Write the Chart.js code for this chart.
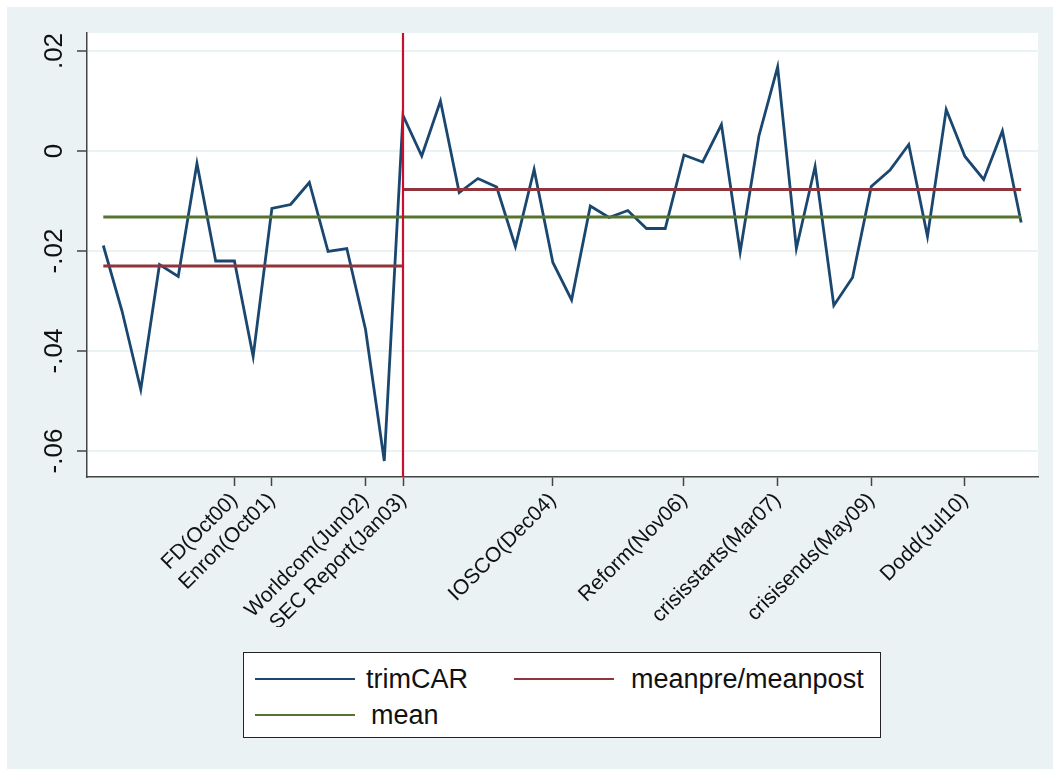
<!DOCTYPE html>
<html>
<head>
<meta charset="utf-8">
<script src="https://cdn.jsdelivr.net/npm/chart.js@4.4.1/dist/chart.umd.min.js"></script>
<style>
  body { margin: 0; background: #fff; font-family: "Liberation Sans", Arial, sans-serif; }
  #panel { position: absolute; left: 7px; top: 7px; width: 1046px; height: 762px; background: #EAF2F3; }
  #wrap { position: absolute; left: 0; top: 0; width: 1053px; height: 769px; }
  #legend { position: absolute; left: 243px; top: 652px; width: 636px; height: 84px; background: #fff; border: 1.5px solid #222;
            font-size: 27px; color: #111; }
  #legend .item { position: absolute; display: flex; align-items: center; height: 30px; }
  #legend .swatch { width: 100px; height: 2px; }
</style>
</head>
<body>
<div id="panel"></div>
<div id="wrap"><canvas id="c" width="1053" height="769"></canvas></div>
<div id="legend"></div>
<script>
// observation numbers (monthly event windows)
const obs = [1,2,3,4,5,6,7,8,9,10,11,12,13,14,15,16,17,18,19,20,21,22,23,24,25,
             26,27,28,29,30,31,32,33,34,35,36,37,38,39,40,41,42,43,44,45,46,47,48,49,50];
const trimCAR = [-0.0189, -0.0320, -0.0477, -0.0227, -0.0251, -0.0025, -0.0220, -0.0220, -0.0411, -0.0115,
                 -0.0107, -0.0063, -0.0201, -0.0195, -0.0357, -0.0620, 0.0071, -0.0010, 0.0100, -0.0083,
                 -0.0055, -0.0072, -0.0191, -0.0037, -0.0223, -0.0298, -0.0110, -0.0133, -0.0119, -0.0155,
                 -0.0155, -0.0008, -0.0022, 0.0053, -0.0202, 0.0030, 0.0168, -0.0195, -0.0031, -0.0309,
                 -0.0253, -0.0071, -0.0038, 0.0013, -0.0171, 0.0083, -0.0011, -0.0057, 0.0040, -0.0143];
const breakObs = 17;
const meanpre = -0.0230;
const meanpost = -0.0077;
const meanAll = -0.0132;

const eventTicks = [8, 10, 15, 17, 25, 32, 37, 42, 47];
const eventLabels = ['FD(Oct00)', 'Enron(Oct01)', 'Worldcom(Jun02)', 'SEC Report(Jan03)', 'IOSCO(Dec04)',
                     'Reform(Nov06)', 'crisisstarts(Mar07)', 'crisisends(May09)', 'Dodd(Jul10)'];
const yTicks = [-0.06, -0.04, -0.02, 0, 0.02];
const yLabels = ['-.06', '-.04', '-.02', '0', '.02'];

const xMin = 0.13, xMax = 50.9, yMin = -0.0652, yMax = 0.0236;

const navy = '#1A476F', maroon = '#90353B', green = '#55752F', crimson = '#C8102E';
const bg = '#EAF2F3', axisCol = '#444';

const preLine = obs.filter(o => o <= breakObs);
const postLine = obs.filter(o => o >= breakObs);

const plotBg = {
  id: 'plotBg',
  beforeDraw(chart) {
    const a = chart.chartArea, ctx = chart.ctx;
    ctx.save();
    ctx.fillStyle = '#fff';
    ctx.fillRect(a.left, a.top, a.right - a.left, a.bottom - a.top);
    ctx.restore();
  }
};

const chart = new Chart(document.getElementById('c'), {
  type: 'line',
  data: {
    datasets: [
      { label: 'xline', data: [{x: breakObs, y: yMin}, {x: breakObs, y: yMax}], borderColor: crimson, borderWidth: 2.2, order: 0 },
      { label: 'mean', data: [{x: obs[0], y: meanAll}, {x: obs[obs.length - 1], y: meanAll}], borderColor: green, borderWidth: 2.8, order: 1 },
      { label: 'meanpre/meanpost',
        data: [{x: preLine[0], y: meanpre}, {x: breakObs, y: meanpre}, {x: breakObs, y: null},
               {x: breakObs, y: meanpost}, {x: postLine[postLine.length - 1], y: meanpost}],
        borderColor: maroon, borderWidth: 2.8, spanGaps: false, order: 2 },
      { label: 'trimCAR', data: obs.map((o, i) => ({x: o, y: trimCAR[i]})), borderColor: navy, borderWidth: 2.8, order: 3 }
    ]
  },
  options: {
    responsive: false,
    animation: false,
    events: [],
    elements: { point: { radius: 0 }, line: { tension: 0, borderCapStyle: 'butt' } },
    layout: { padding: { left: 0, top: 33, right: 15, bottom: 142 } },
    plugins: { legend: { display: false }, tooltip: { enabled: false } },
    scales: {
      x: {
        type: 'linear', min: xMin, max: xMax,
        afterBuildTicks: s => { s.ticks = eventTicks.map(v => ({value: v})); },
        afterFit: s => { s.height = 150; },
        grid: { drawOnChartArea: false, tickLength: 9, tickColor: axisCol, tickWidth: 1.5 },
        border: { color: axisCol, width: 1.5 },
        ticks: {
          autoSkip: false, minRotation: 45, maxRotation: 45, padding: 2,
          color: '#111', font: { family: '"Liberation Sans", Arial', size: 21 },
          callback: v => eventLabels[eventTicks.indexOf(v)]
        }
      },
      y: {
        type: 'linear', min: yMin, max: yMax,
        afterBuildTicks: s => { s.ticks = yTicks.map(v => ({value: v})); },
        afterFit: s => { s.width = 87; },
        grid: { color: bg, lineWidth: 2, tickLength: 10, tickColor: axisCol, tickWidth: 1.5 },
        border: { color: axisCol, width: 1.5 },
        ticks: {
          minRotation: 90, maxRotation: 90, crossAlign: 'center', padding: 0,
          color: '#111', font: { family: '"Liberation Sans", Arial', size: 26 },
          callback: v => yLabels[yTicks.indexOf(v)]
        }
      }
    }
  },
  plugins: [plotBg]
});

// legend built from the chart datasets (two columns like Stata)
const legendEl = document.getElementById('legend');
const slots = [{l: 11, t: 11, gap: 11}, {l: 270, t: 11, gap: 17}, {l: 11, t: 47, gap: 16}];
['trimCAR', 'meanpre/meanpost', 'mean'].forEach((name, i) => {
  const ds = chart.data.datasets.find(d => d.label === name);
  const it = document.createElement('div');
  it.className = 'item';
  it.style.left = slots[i].l + 'px';
  it.style.top = slots[i].t + 'px';
  it.innerHTML = '<span class="swatch" style="background:' + ds.borderColor + ';margin-right:' + slots[i].gap + 'px"></span><span>' + name + '</span>';
  legendEl.appendChild(it);
});
</script>
</body>
</html>
